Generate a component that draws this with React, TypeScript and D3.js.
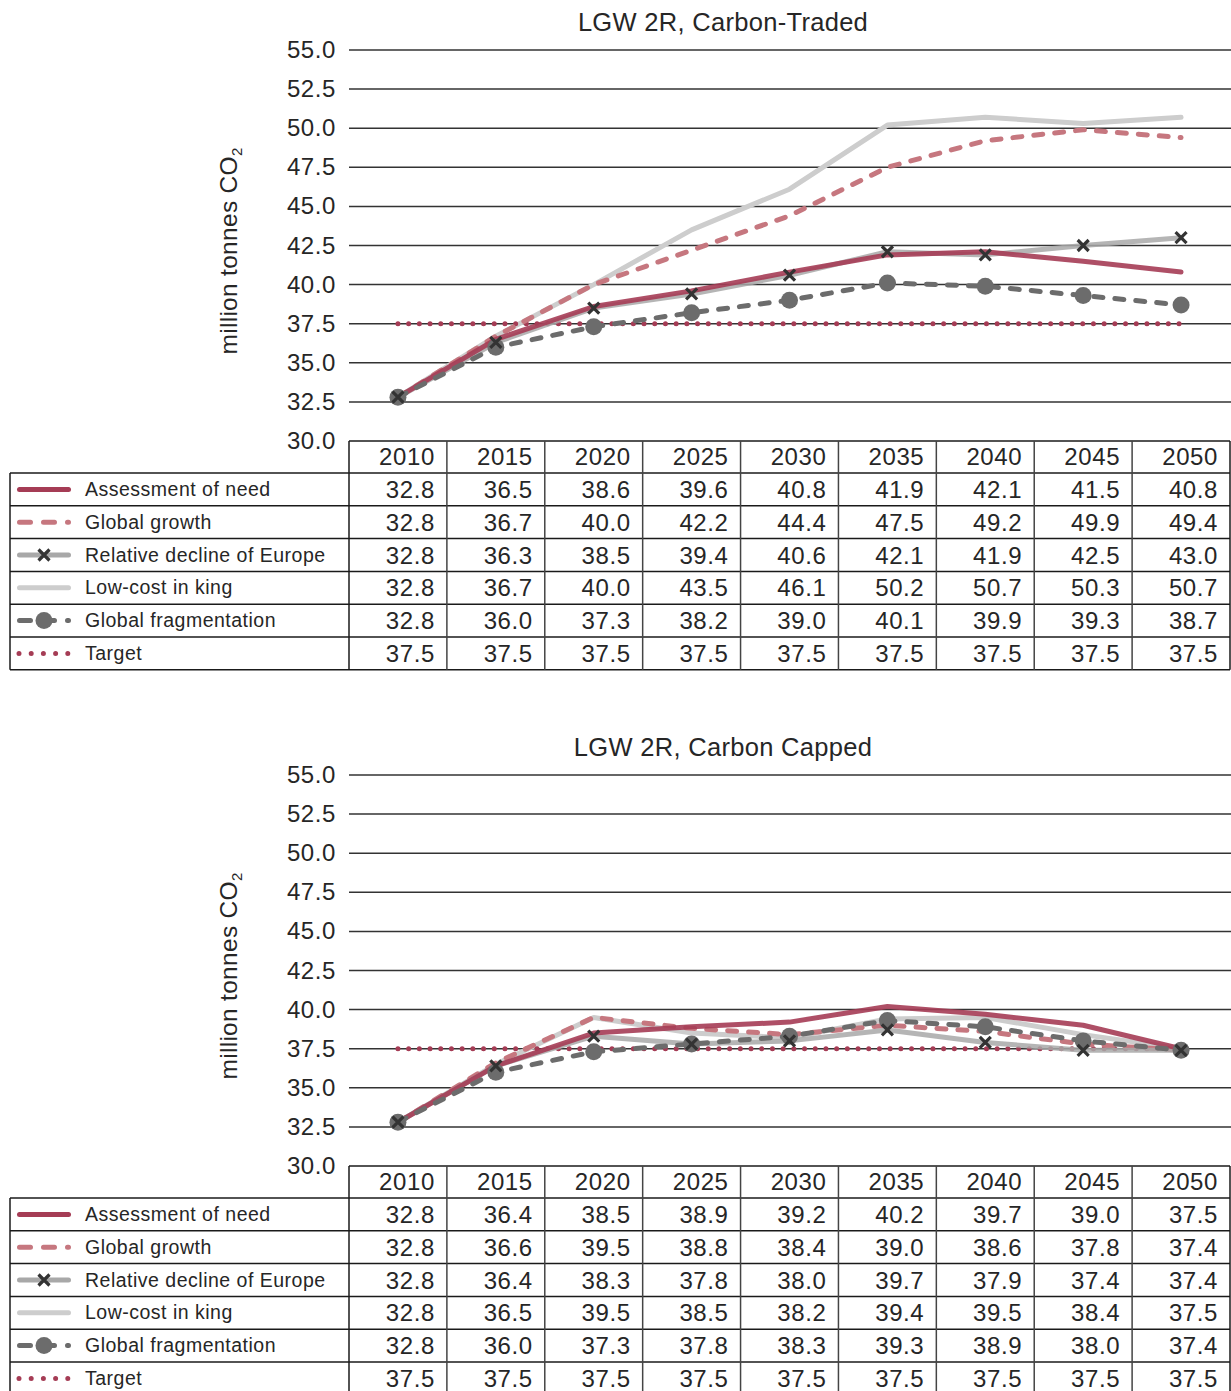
import React from "react";
import * as d3 from "d3";

const YEARS = ["2010", "2015", "2020", "2025", "2030", "2035", "2040", "2045", "2050"];
const SERIES_NAMES = [
  "Assessment of need",
  "Global growth",
  "Relative decline of Europe",
  "Low-cost in king",
  "Global fragmentation",
  "Target",
];
const Y_TICKS = [30, 32.5, 35, 37.5, 40, 42.5, 45, 47.5, 50, 52.5, 55];

// Chart 1: Carbon-Traded
const TRADED_ASSESSMENT = [32.8, 36.5, 38.6, 39.6, 40.8, 41.9, 42.1, 41.5, 40.8];
const TRADED_GROWTH = [32.8, 36.7, 40.0, 42.2, 44.4, 47.5, 49.2, 49.9, 49.4];
const TRADED_DECLINE = [32.8, 36.3, 38.5, 39.4, 40.6, 42.1, 41.9, 42.5, 43.0];
const TRADED_LOWCOST = [32.8, 36.7, 40.0, 43.5, 46.1, 50.2, 50.7, 50.3, 50.7];
const TRADED_FRAGMENT = [32.8, 36.0, 37.3, 38.2, 39.0, 40.1, 39.9, 39.3, 38.7];
const TRADED_TARGET = [37.5, 37.5, 37.5, 37.5, 37.5, 37.5, 37.5, 37.5, 37.5];

// Chart 2: Carbon Capped
const CAPPED_ASSESSMENT = [32.8, 36.4, 38.5, 38.9, 39.2, 40.2, 39.7, 39.0, 37.5];
const CAPPED_GROWTH = [32.8, 36.6, 39.5, 38.8, 38.4, 39.0, 38.6, 37.8, 37.4];
const CAPPED_DECLINE = [32.8, 36.4, 38.3, 37.8, 38.0, 38.7, 37.9, 37.4, 37.4];
const CAPPED_DECLINE_TABLE = ["32.8", "36.4", "38.3", "37.8", "38.0", "39.7", "37.9", "37.4", "37.4"];
const CAPPED_LOWCOST = [32.8, 36.5, 39.5, 38.5, 38.2, 39.4, 39.5, 38.4, 37.5];
const CAPPED_FRAGMENT = [32.8, 36.0, 37.3, 37.8, 38.3, 39.3, 38.9, 38.0, 37.4];
const CAPPED_TARGET = [37.5, 37.5, 37.5, 37.5, 37.5, 37.5, 37.5, 37.5, 37.5];

const FONT = "'Liberation Sans', Arial, sans-serif";
const TEXT = "#262626";
const C_ASSESS = "#a53c55";
const C_GROWTH = "#c6777f";
const C_DECLINE = "#a8a8a8";
const C_LOWCOST = "#cdcdcd";
const C_FRAG = "#6c6c6c";
const C_TARGET = "#a53c55";
const C_MARK = "#333333";

type Series = { name: string; values: number[]; table?: string[] };

const PLOT_LEFT = 349;
const PLOT_RIGHT = 1230;
const LEG_LEFT = 10;
const HEADER_H = 32;
const ROW_H = 32.8;
const X_PATH = "M-5.5,-5.5L5.5,5.5M-5.5,5.5L5.5,-5.5";

function Chart({ top, title, series }: { top: number; title: string; series: Series[] }) {
  const x = d3.scaleBand<string>().domain(YEARS).range([PLOT_LEFT, PLOT_RIGHT]).paddingInner(0).paddingOuter(0);
  const y = d3.scaleLinear().domain([30, 55]).range([top + 441, top + 50]);
  const cx = (yr: string) => (x(yr) as number) + x.bandwidth() / 2;
  const line = d3
    .line<number>()
    .x((_, i) => cx(YEARS[i]))
    .y((v) => y(v));

  const [assess, growth, decline, lowcost, frag, target] = series;
  const tableTop = y(30);
  const rowsTop = tableTop + HEADER_H;

  const swatchY = (i: number) => rowsTop + i * ROW_H + ROW_H / 2;

  return (
    <g>
      <text x={723} y={top + 31} textAnchor="middle" fontSize={25.5} fill={TEXT} fontFamily={FONT} letterSpacing={0.3}>
        {title}
      </text>
      <text
        transform={`translate(237,${top + 251}) rotate(-90)`}
        textAnchor="middle"
        fontSize={24.5}
        fill={TEXT}
        fontFamily={FONT}
        letterSpacing={0.3}
      >
        million tonnes CO
        <tspan fontSize={15} dy={5}>2</tspan>
      </text>
      {Y_TICKS.map((t) => (
        <g key={t}>
          {t > 30 && (
            <line x1={PLOT_LEFT} x2={PLOT_RIGHT + 1} y1={y(t)} y2={y(t)} stroke="#333" strokeWidth={1.5} />
          )}
          <text
            x={336}
            y={y(t) + 8}
            textAnchor="end"
            fontSize={24}
            fill={TEXT}
            fontFamily={FONT}
            letterSpacing={0.6}
          >
            {t.toFixed(1)}
          </text>
        </g>
      ))}

      {/* series lines */}
      <path d={line(lowcost.values) || ""} fill="none" stroke={C_LOWCOST} strokeWidth={5} strokeLinejoin="round" strokeLinecap="round" />
      <path d={line(target.values) || ""} fill="none" stroke={C_TARGET} strokeWidth={5} strokeDasharray="0 10.7" strokeLinecap="round" />
      <path d={line(growth.values) || ""} fill="none" stroke={C_GROWTH} strokeWidth={5} strokeDasharray="9 12" strokeLinecap="round" strokeLinejoin="round" />
      <path d={line(decline.values) || ""} fill="none" stroke={C_DECLINE} strokeWidth={5} strokeLinejoin="round" strokeLinecap="round" opacity={0.85} />
      <path d={line(assess.values) || ""} fill="none" stroke={C_ASSESS} strokeWidth={5} strokeLinejoin="round" strokeLinecap="round" opacity={0.9} />
      <path d={line(frag.values) || ""} fill="none" stroke={C_FRAG} strokeWidth={5} strokeDasharray="9 12" strokeLinecap="round" strokeLinejoin="round" />
      {frag.values.map((v, i) => (
        <circle key={"c" + i} cx={cx(YEARS[i])} cy={y(v)} r={8.5} fill={C_FRAG} />
      ))}
      {decline.values.map((v, i) => (
        <path
          key={"x" + i}
          transform={`translate(${cx(YEARS[i])},${y(v)})`}
          d={X_PATH}
          stroke={C_MARK}
          strokeWidth={3.2}
          fill="none"
        />
      ))}

      {/* table */}
      <g fontFamily={FONT} fill={TEXT}>
        {YEARS.map((yr) => (
          <text
            key={yr}
            x={(x(yr) as number) + x.bandwidth() - 12}
            y={tableTop + 24}
            textAnchor="end"
            fontSize={24}
            letterSpacing={0.6}
          >
            {yr}
          </text>
        ))}
        {series.map((s, r) => (
          <g key={s.name}>
            <text x={85} y={rowsTop + r * ROW_H + 23} fontSize={19.5} letterSpacing={0.5}>
              {s.name}
            </text>
            {s.values.map((v, i) => (
              <text
                key={i}
                x={(x(YEARS[i]) as number) + x.bandwidth() - 12}
                y={rowsTop + r * ROW_H + 25}
                textAnchor="end"
                fontSize={24}
                letterSpacing={0.6}
              >
                {s.table ? s.table[i] : v.toFixed(1)}
              </text>
            ))}
          </g>
        ))}
      </g>

      {/* table borders */}
      <g stroke="#1a1a1a" strokeWidth={1.5} fill="none">
        <line x1={PLOT_LEFT} x2={PLOT_RIGHT} y1={tableTop} y2={tableTop} />
        {series.map((_, r) => (
          <line key={"h" + r} x1={LEG_LEFT} x2={PLOT_RIGHT} y1={rowsTop + r * ROW_H} y2={rowsTop + r * ROW_H} />
        ))}
        <line x1={LEG_LEFT} x2={PLOT_RIGHT} y1={rowsTop + 6 * ROW_H} y2={rowsTop + 6 * ROW_H} />
        <line x1={LEG_LEFT} x2={LEG_LEFT} y1={rowsTop} y2={rowsTop + 6 * ROW_H} />
        <line x1={PLOT_LEFT} x2={PLOT_LEFT} y1={tableTop} y2={rowsTop + 6 * ROW_H} />
        {YEARS.map((yr, i) => (
          <line
            key={"v" + i}
            x1={(x(yr) as number) + x.bandwidth()}
            x2={(x(yr) as number) + x.bandwidth()}
            y1={tableTop}
            y2={rowsTop + 6 * ROW_H}
            stroke={i === YEARS.length - 1 ? "#1a1a1a" : "#444"}
          />
        ))}
      </g>

      {/* legend swatches */}
      <g>
        <line x1={19.5} x2={68.5} y1={swatchY(0)} y2={swatchY(0)} stroke={C_ASSESS} strokeWidth={5} strokeLinecap="round" />
        <line x1={19.5} x2={68.5} y1={swatchY(1)} y2={swatchY(1)} stroke={C_GROWTH} strokeWidth={5} strokeLinecap="round" strokeDasharray="11 13" />
        <line x1={19.5} x2={68.5} y1={swatchY(2)} y2={swatchY(2)} stroke={C_DECLINE} strokeWidth={5} strokeLinecap="round" />
        <path transform={`translate(44,${swatchY(2)})`} d={X_PATH} stroke={C_MARK} strokeWidth={3.2} />
        <line x1={19.5} x2={68.5} y1={swatchY(3)} y2={swatchY(3)} stroke={C_LOWCOST} strokeWidth={5} strokeLinecap="round" />
        <line x1={19.5} x2={68.5} y1={swatchY(4)} y2={swatchY(4)} stroke={C_FRAG} strokeWidth={5} strokeLinecap="round" strokeDasharray="11 13" />
        <circle cx={44} cy={swatchY(4)} r={8.5} fill={C_FRAG} />
        <line x1={19} x2={68} y1={swatchY(5)} y2={swatchY(5)} stroke={C_TARGET} strokeWidth={5} strokeLinecap="round" strokeDasharray="0 12.2" />
      </g>
    </g>
  );
}

export default function App() {
  const traded: Series[] = [
    { name: SERIES_NAMES[0], values: TRADED_ASSESSMENT },
    { name: SERIES_NAMES[1], values: TRADED_GROWTH },
    { name: SERIES_NAMES[2], values: TRADED_DECLINE },
    { name: SERIES_NAMES[3], values: TRADED_LOWCOST },
    { name: SERIES_NAMES[4], values: TRADED_FRAGMENT },
    { name: SERIES_NAMES[5], values: TRADED_TARGET },
  ];
  const capped: Series[] = [
    { name: SERIES_NAMES[0], values: CAPPED_ASSESSMENT },
    { name: SERIES_NAMES[1], values: CAPPED_GROWTH },
    { name: SERIES_NAMES[2], values: CAPPED_DECLINE, table: CAPPED_DECLINE_TABLE },
    { name: SERIES_NAMES[3], values: CAPPED_LOWCOST },
    { name: SERIES_NAMES[4], values: CAPPED_FRAGMENT },
    { name: SERIES_NAMES[5], values: CAPPED_TARGET },
  ];
  return (
    <div style={{ position: "absolute", left: 0, top: 0, width: 1231, height: 1391, overflow: "hidden", background: "#fff" }}>
      <svg width={1231} height={1391} style={{ display: "block" }}>
        <rect width={1231} height={1391} fill="#fff" />
        <Chart top={0} title="LGW 2R, Carbon-Traded" series={traded} />
        <Chart top={725} title="LGW 2R, Carbon Capped" series={capped} />
      </svg>
    </div>
  );
}
